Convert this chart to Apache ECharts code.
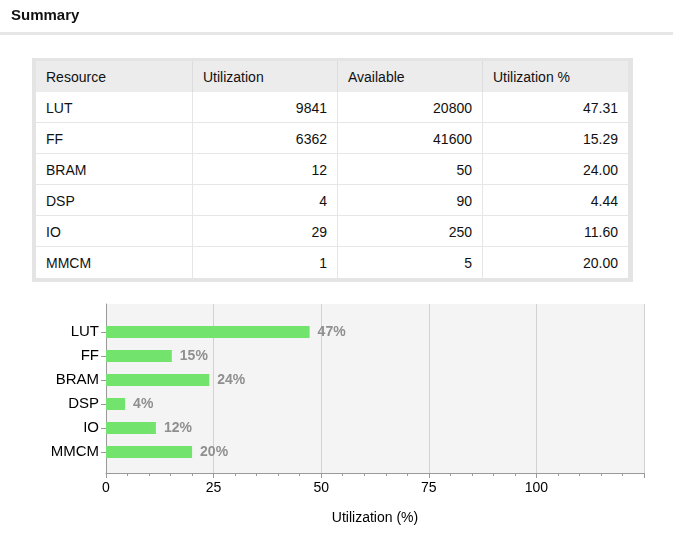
<!DOCTYPE html>
<html>
<head>
<meta charset="utf-8">
<script src="https://cdn.jsdelivr.net/npm/echarts@6/dist/echarts.min.js"></script>
<style>
  html, body { margin: 0; padding: 0; background: #fff; }
  body { width: 673px; height: 538px; position: relative; overflow: hidden; font-family: "Liberation Sans", Arial, sans-serif; }
  #chart { position: absolute; left: 0; top: 0; width: 673px; height: 538px; }
  #tbl { position: absolute; left: 32px; top: 58px; width: 601px; height: 224px; background: #e4e4e4; z-index: 2; }
  .cell { position: absolute; box-sizing: border-box; font-size: 14px; color: #111; line-height: 32px; white-space: nowrap; }
  .hdr { background: #ececec; border-right: 1px solid #dcdcdc; }
  .body { background: #fff; border-right: 1px solid #e6e6e6; border-bottom: 1px solid #e6e6e6; }
</style>
</head>
<body>
<div id="chart"></div>
<div id="tbl"></div>
<script>
// ---- data ----
const tableHeaders = ['Resource', 'Utilization', 'Available', 'Utilization %'];
const resources = ['LUT', 'FF', 'BRAM', 'DSP', 'IO', 'MMCM'];
const utilization = [9841, 6362, 12, 4, 29, 1];
const available = [20800, 41600, 50, 90, 250, 5];
const utilizationPct = ['47.31', '15.29', '24.00', '4.44', '11.60', '20.00'];
const xTickLabels = [0, 25, 50, 75, 100];

// ---- table ----
const tbl = document.getElementById('tbl');
const colW = [157, 145, 145, 145];
const rowH = 31;
const offX = 4, offY = 3;
const columns = [resources, utilization, available, utilizationPct];
function addCell(text, col, row, isHdr) {
  const d = document.createElement('div');
  d.className = 'cell ' + (isHdr ? 'hdr' : 'body');
  let x = offX;
  for (let i = 0; i < col; i++) x += colW[i];
  d.style.left = x + 'px';
  d.style.top = (offY + row * rowH) + 'px';
  d.style.width = colW[col] + 'px';
  d.style.height = rowH + 'px';
  if (col === colW.length - 1) d.style.borderRight = 'none';
  if (isHdr || col === 0) { d.style.textAlign = 'left'; d.style.paddingLeft = '10px'; }
  else { d.style.textAlign = 'right'; d.style.paddingRight = '10px'; }
  if (row === resources.length) d.style.borderBottom = 'none';
  d.textContent = text;
  tbl.appendChild(d);
}
tableHeaders.forEach((h, c) => addCell(h, c, 0, true));
resources.forEach((r, i) => {
  columns.forEach((col, c) => addCell(String(col[i]), c, i + 1, false));
});

// ---- chart ----
const chart = echarts.init(document.getElementById('chart'), null, { renderer: 'canvas' });
const axisGray = '#9a9a9a';
chart.setOption({
  animation: false,
  textStyle: { fontFamily: 'Liberation Sans, Arial, sans-serif' },
  title: {
    text: 'Summary', left: 6, top: 3,
    textStyle: { fontSize: 15, fontWeight: 'bold', color: '#111' }
  },
  graphic: [
    { type: 'rect', left: 0, top: 32, shape: { width: 673, height: 3 }, style: { fill: '#e6e6e6' } }
  ],
  grid: [
    { left: 106, top: 304, width: 538, height: 169, show: true, backgroundColor: '#f4f4f4', borderWidth: 0 },
    { left: 106, top: 320, width: 538, height: 144 }
  ],
  xAxis: [
    {
      gridIndex: 0, type: 'value', min: 0, max: 125, interval: 25,
      axisLine: { show: true, lineStyle: { color: axisGray } },
      axisTick: { show: true, length: 5, lineStyle: { color: axisGray } },
      minorTick: { show: true, splitNumber: 5, length: 3, lineStyle: { color: axisGray } },
      splitLine: { show: true, lineStyle: { color: '#d2d2d2' } },
      axisLabel: {
        color: '#000', fontSize: 14, margin: 8,
        formatter: v => xTickLabels.indexOf(v) >= 0 ? String(v) : ''
      },
      name: 'Utilization (%)', nameLocation: 'middle', nameGap: 38,
      nameTextStyle: { color: '#000', fontSize: 14 }
    },
    { gridIndex: 1, type: 'value', min: 0, max: 125, show: false }
  ],
  yAxis: [
    {
      gridIndex: 0, type: 'value', min: 0, max: 1,
      axisLine: { show: true, lineStyle: { color: axisGray } },
      axisTick: { show: false }, axisLabel: { show: false }, splitLine: { show: false }
    },
    {
      gridIndex: 1, type: 'category', data: resources, inverse: true,
      axisLine: { show: false },
      axisTick: { show: true, alignWithLabel: true, length: 5, lineStyle: { color: axisGray } },
      axisLabel: { color: '#000', fontSize: 15, margin: 7 }
    }
  ],
  series: [
    {
      type: 'bar', xAxisIndex: 1, yAxisIndex: 1,
      data: utilizationPct.map(Number),
      barWidth: 12,
      itemStyle: { color: '#72e46d' },
      label: {
        show: true, position: 'right', distance: 8,
        formatter: p => Math.round(p.value) + '%',
        color: '#8f8f8f', fontSize: 14, fontWeight: 'bold'
      }
    }
  ]
});
</script>
</body>
</html>
